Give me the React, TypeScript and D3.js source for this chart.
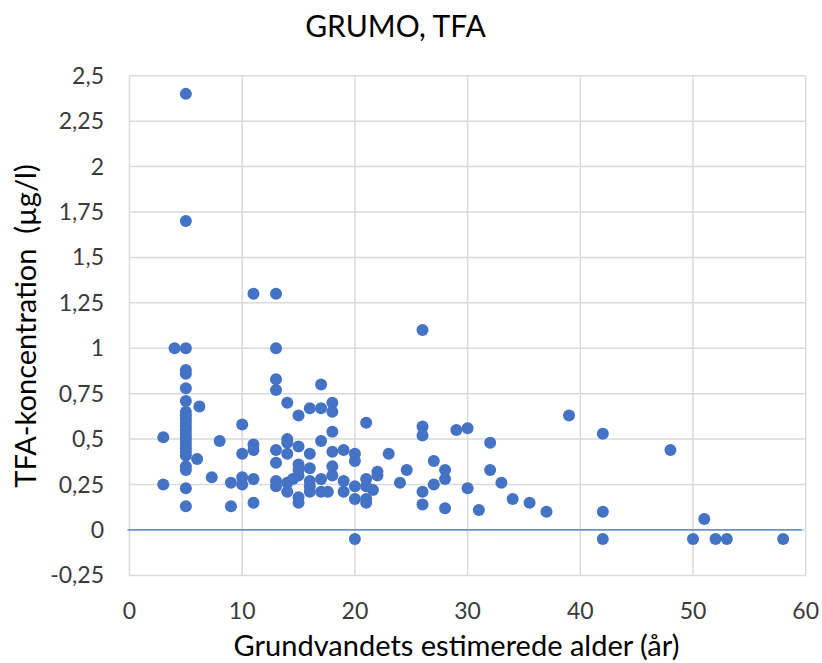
import React from "react";
import * as d3 from "d3";

const ages = [
  3, 3,
  4,
  5, 5, 5, 5, 5, 5, 5, 5, 5, 5, 5, 5, 5, 5, 5, 5, 5, 5, 5, 5, 5, 5, 5, 5,
  6.2, 6, 7.3, 8, 9, 9,
  10, 10, 10, 10,
  11, 11, 11, 11, 11,
  13, 13, 13, 13, 13, 13, 13, 13,
  14, 14, 14, 14, 14, 14, 14.5,
  15, 15, 15, 15, 15, 15, 15,
  16, 16, 16, 16, 16, 16,
  17, 17, 17, 17, 17, 17.6,
  18, 18, 18, 18, 18, 18,
  19, 19, 19,
  20, 20, 20, 20, 20,
  21, 21, 21, 21, 21, 21.6,
  22, 22, 23, 24, 24.6,
  26, 26, 26, 26, 26,
  27, 27, 28, 28, 28, 29, 30, 30, 31, 32, 32, 33, 34, 35.5, 37, 39,
  42, 42, 42, 48, 50, 51, 52, 53, 58,
];

const tfaValues = [
  0.51, 0.25,
  1.0,
  2.4, 1.7, 1.0, 0.88, 0.86, 0.78, 0.71, 0.65, 0.63, 0.61, 0.59, 0.57, 0.55, 0.53, 0.51, 0.49, 0.47, 0.45, 0.43, 0.41, 0.35, 0.33, 0.23, 0.13,
  0.68, 0.39, 0.29, 0.49, 0.26, 0.13,
  0.58, 0.42, 0.29, 0.25,
  1.3, 0.47, 0.44, 0.28, 0.15,
  1.3, 1.0, 0.83, 0.77, 0.44, 0.37, 0.27, 0.24,
  0.7, 0.5, 0.48, 0.42, 0.26, 0.21, 0.28,
  0.63, 0.46, 0.36, 0.33, 0.3, 0.18, 0.15,
  0.67, 0.42, 0.34, 0.27, 0.24, 0.21,
  0.8, 0.67, 0.49, 0.28, 0.21, 0.21,
  0.7, 0.65, 0.54, 0.43, 0.35, 0.3,
  0.44, 0.27, 0.21,
  0.42, 0.38, 0.24, 0.17, -0.05,
  0.59, 0.28, 0.24, 0.17, 0.15, 0.22,
  0.32, 0.3, 0.42, 0.26, 0.33,
  1.1, 0.57, 0.52, 0.21, 0.14,
  0.38, 0.25, 0.33, 0.28, 0.12, 0.55, 0.56, 0.23, 0.11, 0.48, 0.33, 0.26, 0.17, 0.15, 0.1, 0.63,
  0.53, 0.1, -0.05, 0.44, -0.05, 0.06, -0.05, -0.05, -0.05,
];

const xTicks = [0, 10, 20, 30, 40, 50, 60];
const yTicks = [-0.25, 0, 0.25, 0.5, 0.75, 1, 1.25, 1.5, 1.75, 2, 2.25, 2.5];

const title = "GRUMO, TFA";
const xTitle = "Grundvandets estimerede alder (år)";
const yTitle = "TFA-koncentration \u00a0(µg/l)";

const W = 822;
const H = 663;
const left = 129.5;
const right = 805.7;
const top = 75.7;
const bottom = 575.4;
const FONT = "Lato, 'Open Sans', sans-serif";
const BLUE = "#4472C4";
const GRID = "#d9d9d9";

const fmt = (v: number) => String(v).replace(".", ",");

export default function App() {
  const x = d3.scaleLinear().domain([0, 60]).range([left, right]);
  const y = d3.scaleLinear().domain([-0.25, 2.5]).range([bottom, top]);

  return (
    <div style={{ position: "absolute", left: 0, top: 0 }}>
      <svg width={W} height={H} style={{ display: "block", background: "#fff" }}>
        <rect x={0} y={0} width={W} height={H} fill="#fff" />
        {yTicks.map((t) => (
          <line key={"gy" + t} x1={left} x2={right} y1={y(t)} y2={y(t)} stroke={GRID} strokeWidth={1.5} />
        ))}
        {xTicks.map((t) => (
          <line key={"gx" + t} x1={x(t)} x2={x(t)} y1={top} y2={bottom} stroke={GRID} strokeWidth={1.5} />
        ))}
        <line x1={x(0) - 2} x2={x(60) - 4} y1={y(0)} y2={y(0)} stroke={BLUE} strokeWidth={1.3} />
        {ages.map((a, i) => (
          <circle key={i} cx={x(a)} cy={y(tfaValues[i])} r={6} fill={BLUE} />
        ))}
        {yTicks.map((t) => (
          <text key={"ty" + t} x={104} y={y(t)} dy="0.35em" textAnchor="end" fontFamily={FONT} fontSize={23} fill="#3a3a3a">
            {fmt(t)}
          </text>
        ))}
        {xTicks.map((t) => (
          <text key={"tx" + t} x={x(t)} y={619} textAnchor="middle" fontFamily={FONT} fontSize={23} fill="#3a3a3a">
            {fmt(t)}
          </text>
        ))}
        <text x={395.5} y={37} textAnchor="middle" fontFamily={FONT} fontSize={30} fill="#000">
          {title}
        </text>
        <text x={456.5} y={656} textAnchor="middle" fontFamily={FONT} fontSize={29} fill="#000">
          {xTitle}
        </text>
        <text
          transform={`translate(36,326) rotate(-90)`}
          textAnchor="middle"
          fontFamily={FONT}
          fontSize={29}
          fill="#000"
        >
          {yTitle}
        </text>
      </svg>
    </div>
  );
}
